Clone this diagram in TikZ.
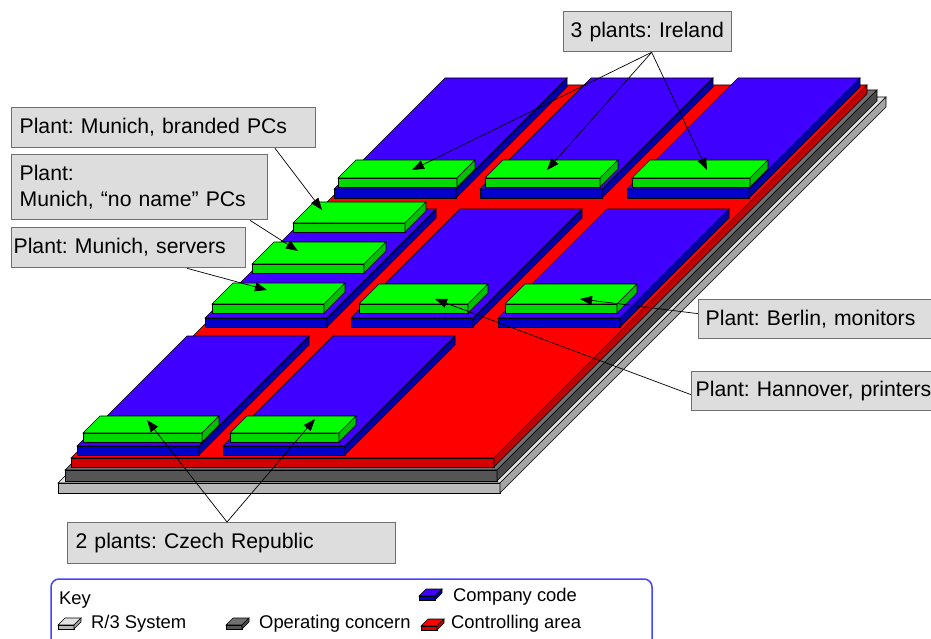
\documentclass[tikz,border=0pt]{standalone}
\usepackage{fontspec}
\setmainfont{Liberation Sans}
\usetikzlibrary{arrows.meta}
\frenchspacing
\hyphenpenalty=10000
\exhyphenpenalty=10000
\definecolor{lgtop}{HTML}{E2E2E2}
\definecolor{lgfront}{HTML}{B8B8B8}
\definecolor{lgside}{HTML}{A4A4A4}
\definecolor{dgtop}{HTML}{707070}
\definecolor{dgfront}{HTML}{555555}
\definecolor{dgside}{HTML}{4A4A4A}
\definecolor{rdtop}{HTML}{FF0000}
\definecolor{rdfront}{HTML}{D40000}
\definecolor{rdside}{HTML}{C00000}
\definecolor{bltop}{HTML}{4000FF}
\definecolor{blfront}{HTML}{0000CC}
\definecolor{blside}{HTML}{0000A8}
\definecolor{grtop}{HTML}{00FF00}
\definecolor{grfront}{HTML}{00D800}
\definecolor{grside}{HTML}{00C000}
\definecolor{lblfill}{HTML}{DDDDDD}
\definecolor{lbldraw}{HTML}{707070}
\definecolor{keyblue}{HTML}{4444FF}
% x1 x2 d1 d2 z1 z2 top front side
\newcommand{\myslab}[9]{%
  \filldraw[slabline,fill=#7] ({#1+#3},{493-#3-#6}) -- ({#2+#3},{493-#3-#6}) -- ({#2+#4},{493-#4-#6}) -- ({#1+#4},{493-#4-#6}) -- cycle;
  \filldraw[slabline,fill=#8] ({#1+#3},{493-#3-#5}) -- ({#2+#3},{493-#3-#5}) -- ({#2+#3},{493-#3-#6}) -- ({#1+#3},{493-#3-#6}) -- cycle;
  \filldraw[slabline,fill=#9] ({#2+#3},{493-#3-#5}) -- ({#2+#4},{493-#4-#5}) -- ({#2+#4},{493-#4-#6}) -- ({#2+#3},{493-#3-#6}) -- cycle;
}
\newcommand{\cocode}[4]{\myslab{#1}{#2}{#3}{#4}{30}{39}{bltop}{blfront}{blside}}
\newcommand{\plantslab}[4]{\myslab{#1}{#2}{#3}{#4}{39}{48}{grtop}{grfront}{grside}}
% x y top front side
\newcommand{\keyicon}[5]{%
  \filldraw[slabline,fill=#3] (#1,{#2-4}) -- ({#1+16},{#2-4}) -- ({#1+23},{#2-11}) -- ({#1+7},{#2-11}) -- cycle;
  \filldraw[slabline,fill=#4] (#1,#2) -- ({#1+16},#2) -- ({#1+16},{#2-4}) -- (#1,{#2-4}) -- cycle;
  \filldraw[slabline,fill=#5] ({#1+16},#2) -- ({#1+23},{#2-7}) -- ({#1+23},{#2-11}) -- ({#1+16},{#2-4}) -- cycle;
}
\tikzset{
  slabline/.style={draw=black,line width=0.6pt,line join=miter},
  lbl/.style={draw=lbldraw,fill=lblfill,line width=1.3pt,anchor=north west,align=left,
    font=\fontsize{21.2}{26}\selectfont\frenchspacing,inner ysep=0pt,inner xsep=8pt},
  conn/.style={-{Triangle[length=12pt,width=9pt]},line width=0.7pt,black},
  keytxt/.style={anchor=base west,inner sep=0pt,font=\fontsize{18.4}{22}\selectfont\frenchspacing}
}
\begin{document}
\begin{tikzpicture}[x=1pt,y=-1pt]
\clip (0,0) rectangle (931,639);
\fill[white] (0,0) rectangle (931,639);
% base layers
\myslab{58}{500}{0}{386}{0}{10}{lgtop}{lgfront}{lgside}
\myslab{63}{495}{2}{382}{10}{21}{dgtop}{dgfront}{dgside}
\myslab{66}{489}{5}{378}{21}{30}{rdtop}{rdfront}{rdside}
% row 1
\cocode{69}{191}{265}{376}
\cocode{215}{337}{265}{376}
\cocode{362}{484}{265}{376}
\plantslab{71}{190}{267}{285}
\plantslab{218}{333}{267}{285}
\plantslab{365}{483}{267}{285}
% row 2
\cocode{69}{191}{136}{245}
\cocode{215}{337}{136}{245}
\cocode{362}{484}{136}{245}
\plantslab{71}{183}{222}{243}
\plantslab{71}{183}{181}{203}
\plantslab{71}{183}{141}{162}
\plantslab{218}{327}{141}{161}
\plantslab{364}{476}{141}{161}
% row 3
\cocode{69}{191}{8}{118}
\cocode{215}{337}{8}{118}
\plantslab{71}{190}{12}{29}
\plantslab{218}{327}{12}{29}
% arrow targets
\coordinate (t-ire1) at (412,170);
\coordinate (t-ire2) at (547,170);
\coordinate (t-ire3) at (707,170);
\coordinate (t-brand) at (322,210);
\coordinate (t-noname) at (298,251);
\coordinate (t-serv) at (267,290);
\coordinate (t-berlin) at (580,299);
\coordinate (t-hann) at (435,299);
\coordinate (t-cz1) at (147,420);
\coordinate (t-cz2) at (315,419);
% labels
\node[lbl,text width=154,minimum height=40,inner xsep=7pt] (ire) at (563,11) {3 plants: Ireland};
\node[lbl,text width=288,minimum height=40] (brand) at (11,107) {Plant: Munich, branded PCs};
\node[lbl,text width=240,minimum height=65] (noname) at (11,154) {Plant:\\Munich, “no name” PCs};
\node[lbl,text width=230,minimum height=40,inner xsep=2pt] (serv) at (11,227) {Plant: Munich, servers};
\node[lbl,text width=240,minimum height=39,inner xsep=7pt] (berlin) at (698,299) {Plant: Berlin, monitors};
\node[lbl,text width=250,minimum height=39,inner xsep=4pt] (hann) at (691,371) {Plant: Hannover, printers};
\node[lbl,text width=312,minimum height=41] (czech) at (67,522) {2 plants: Czech Republic};
% connectors
\draw[conn] ([xshift=4pt]ire.south) -- (t-ire1);
\draw[conn] ([xshift=4pt]ire.south) -- (t-ire2);
\draw[conn] ([xshift=4pt]ire.south) -- (t-ire3);
\draw[conn] ([xshift=264pt]brand.south west) -- (t-brand);
\draw[conn] ([xshift=239pt]noname.south west) -- (t-noname);
\draw[conn] ([xshift=176pt]serv.south west) -- (t-serv);
\draw[conn] ([yshift=5.5pt]berlin.west) -- (t-berlin);
\draw[conn] ([yshift=-3.5pt]hann.west) -- (t-hann);
\draw[conn] ([xshift=160pt]czech.north west) -- (t-cz1);
\draw[conn] ([xshift=160pt]czech.north west) -- (t-cz2);
% key
\draw[keyblue,line width=1.5pt,rounded corners=8pt] (51,660) -- (51,579) -- (652,579) -- (652,660);
\node[keytxt] (k-title) at (59,604) {Key};
\keyicon{58}{629}{lgtop}{lgfront}{lgside}
\node[keytxt] (k-r3) at (91,628) {R/3 System};
\keyicon{226}{629}{dgtop}{dgfront}{dgside}
\node[keytxt] (k-oc) at (259,628) {Operating concern};
\keyicon{419}{600}{bltop}{blfront}{blside}
\node[keytxt] (k-cc) at (453,601) {Company code};
\keyicon{421}{630}{rdtop}{rdfront}{rdside}
\node[keytxt] (k-ca) at (451,628) {Controlling area};
\end{tikzpicture}
\end{document}
